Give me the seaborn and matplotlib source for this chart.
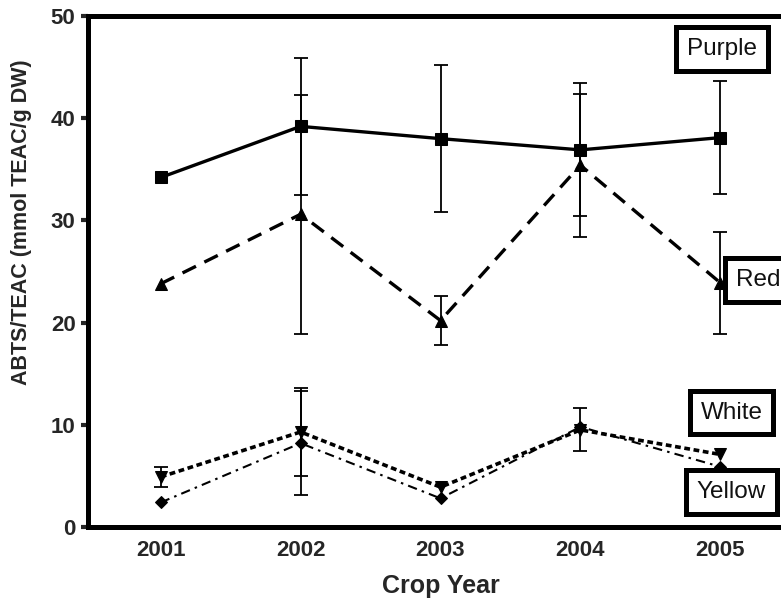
import matplotlib
matplotlib.use("Agg")
import matplotlib.pyplot as plt
import seaborn as sns
import numpy as np
import pandas as pd

# Antioxidant capacity by crop year for four flesh-colour groups
years = [2001, 2002, 2003, 2004, 2005]

purple = [34.2, 39.2, 38.0, 36.9, 38.1]
purple_err = [np.nan, 6.7, 7.2, 6.5, 5.5]

red = [23.8, 30.6, 20.2, 35.4, 23.9]
red_err = [np.nan, 11.7, 2.4, 7.0, 5.0]

white = [4.9, 9.3, 3.9, 9.5, 7.1]
white_err = [1.0, 4.3, np.nan, 2.1, np.nan]

yellow = [2.4, 8.2, 2.8, 9.8, 5.9]
yellow_err = [np.nan, 5.1, np.nan, np.nan, np.nan]

group_names = ["Purple", "Red", "White", "Yellow"]

y_ticks = [0, 10, 20, 30, 40, 50]

sns.set_theme(style="white")
plt.rcParams["font.family"] = ["Liberation Sans", "DejaVu Sans"]

fig = plt.figure(figsize=(7.81, 6.01), dpi=100)
ax = fig.add_axes([88 / 781, 74 / 601, 705 / 781, 511 / 601])

series = [
    (purple, purple_err, dict(marker="s", markersize=9, linewidth=2.4, linestyle="-")),
    (red, red_err, dict(marker="^", markersize=8, linewidth=2.4, dashes=(4.5, 2.8))),
    (white, white_err, dict(marker="v", markersize=9, linewidth=2.6, dashes=(1.6, 1.0))),
    (yellow, yellow_err, dict(marker="D", markersize=6.5, linewidth=1.5,
                              dashes=(4.5, 2.5, 1.2, 2.5))),
]

for name, (vals, errs, style) in zip(group_names, series):
    df = pd.DataFrame({"year": years, "value": vals})
    sns.lineplot(data=df, x="year", y="value", ax=ax, color="black",
                 markeredgecolor="black", markerfacecolor="black",
                 legend=False, **style)
    ax.errorbar(years, vals, yerr=errs, fmt="none", ecolor="black",
                elinewidth=1.3, capsize=5, capthick=1.3)

ax.set_xlim(2000.48, 2005.52)
ax.set_ylim(0, 50)
ax.set_xticks(years)
ax.set_xticklabels([str(y) for y in years], fontsize=16, fontweight="bold")
ax.set_yticks(y_ticks)
ax.set_yticklabels([str(t) for t in y_ticks], fontsize=16, fontweight="bold")
ax.tick_params(axis="x", length=0, pad=9)
ax.tick_params(axis="y", direction="out", length=5, width=3, pad=4, left=True)

ax.set_xlabel("Crop Year", fontsize=18, fontweight="bold", labelpad=10)
ax.set_ylabel("ABTS/TEAC (mmol TEAC/g DW)", fontsize=15.5, fontweight="bold")
ax.yaxis.set_label_coords(-0.08, 0.597)

for side in ["left", "bottom", "top"]:
    ax.spines[side].set_visible(True)
    ax.spines[side].set_linewidth(3.6)
    ax.spines[side].set_color("black")
ax.spines["right"].set_visible(False)

# Group name boxes at the right end of each line
label_pos = {
    "Purple": (2005.01, 46.8),
    "Red": (2005.27, 24.2),
    "White": (2005.08, 11.2),
    "Yellow": (2005.08, 3.4),
}
for name in group_names:
    x, y = label_pos[name]
    ax.text(x, y, name, fontsize=17.5, ha="center", va="center", color="#111111",
            bbox=dict(boxstyle="square,pad=0.45", facecolor="white",
                      edgecolor="black", linewidth=3.6),
            zorder=5, clip_on=False)

fig.savefig("out.png", dpi=100)
